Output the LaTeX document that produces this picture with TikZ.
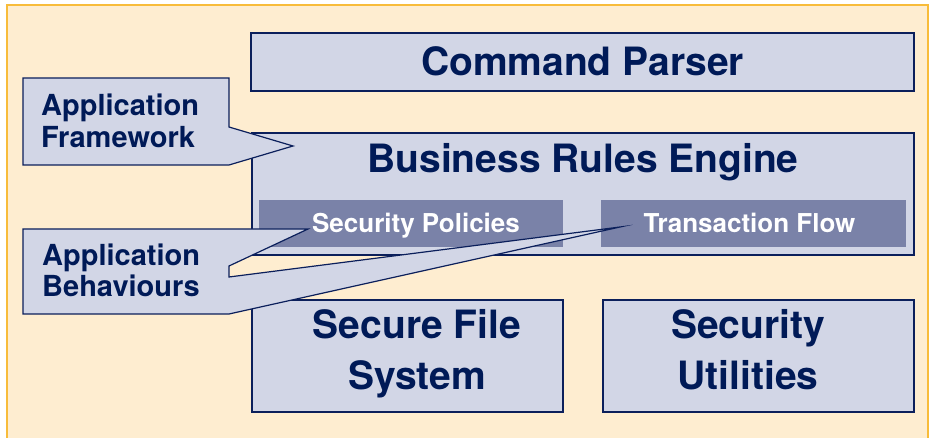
\documentclass[tikz,border=0pt]{standalone}
\usepackage{fontspec}
\setmainfont{TeX Gyre Heros}
\definecolor{bgcream}{HTML}{FEEDD0}
\definecolor{bgborder}{HTML}{F8BC3A}
\definecolor{boxfill}{HTML}{D2D6E6}
\definecolor{innerfill}{HTML}{7A82A8}
\definecolor{navy}{HTML}{0B1F5B}
\definecolor{textnavy}{HTML}{001A57}
\tikzset{
  box/.style={draw=navy, fill=boxfill, line width=1.2pt, inner sep=0pt, outer sep=0pt, anchor=north west},
  innerbox/.style={fill=innerfill, inner sep=0pt, outer sep=0pt, anchor=north west,
    text=white, font=\fontsize{26}{30}\selectfont\bfseries, text height=18.7pt, text depth=0pt},
  callout/.style={draw=navy, fill=boxfill, line width=1.2pt, line join=miter, miter limit=30},
  bigtext/.style={text=textnavy, font=\fontsize{39}{50}\selectfont\bfseries, inner sep=0pt, anchor=base},
  calltext/.style={text=textnavy, font=\fontsize{29}{32}\selectfont\bfseries, inner sep=0pt, anchor=base west},
}
\begin{document}
\begin{tikzpicture}[x=1pt,y=-1pt]
\useasboundingbox (0,0) rectangle (932,438);
% background
\fill[bgcream] (7,5) rectangle (928,440);
\draw[bgborder, line width=1.8pt] (7,440) -- (7,5) -- (928,5) -- (928,440);

% boxes
\node[box, minimum width=663pt, minimum height=58pt, text=textnavy,
      font=\fontsize{39}{50}\selectfont\bfseries, text height=28pt, text depth=0pt] (cp) at (251,33) {Command Parser};
\node[box, minimum width=662pt, minimum height=122pt] (bre) at (252,133) {};
\node[bigtext] (bretext) at (583,173) {Business Rules Engine};
\node[innerbox, minimum width=304pt, minimum height=47pt] (sp) at (259,200) {\hspace*{10pt}Security Policies};
\node[innerbox, minimum width=305pt, minimum height=47pt] (tf) at (601,200) {Transaction Flow\hspace*{8pt}};
\node[box, minimum width=311pt, minimum height=112pt] (sfs) at (252,300) {};
\node[bigtext] (sfs1) at (417,338) {Secure File};
\node[bigtext] (sfs2) at (417,389) {System};
\node[box, minimum width=311pt, minimum height=112pt] (su) at (603,300) {};
\node[bigtext] (su1) at (748,338) {Security};
\node[bigtext] (su2) at (748,389) {Utilities};

% callout: Application Framework
\coordinate (aftip) at (293,146);
\draw[callout] (23,78) -- (229,78) -- (229,127) -- (aftip) -- (229,165) -- (23,165) -- cycle;
\node[calltext] (af1) at (41,116) {Application};
\node[calltext] (af2) at (41,148) {Framework};

% callout: Application Behaviours
\coordinate (sptip) at (308,229);
\coordinate (tftip) at (620,227);
\draw[callout] (23,229) -- (sptip) -- (229,266) -- (229,277) -- (tftip) -- (229,314) -- (23,314) -- cycle;
\node[calltext] (ab1) at (42,266) {Application};
\node[calltext] (ab2) at (42,297) {Behaviours};
\end{tikzpicture}
\end{document}
